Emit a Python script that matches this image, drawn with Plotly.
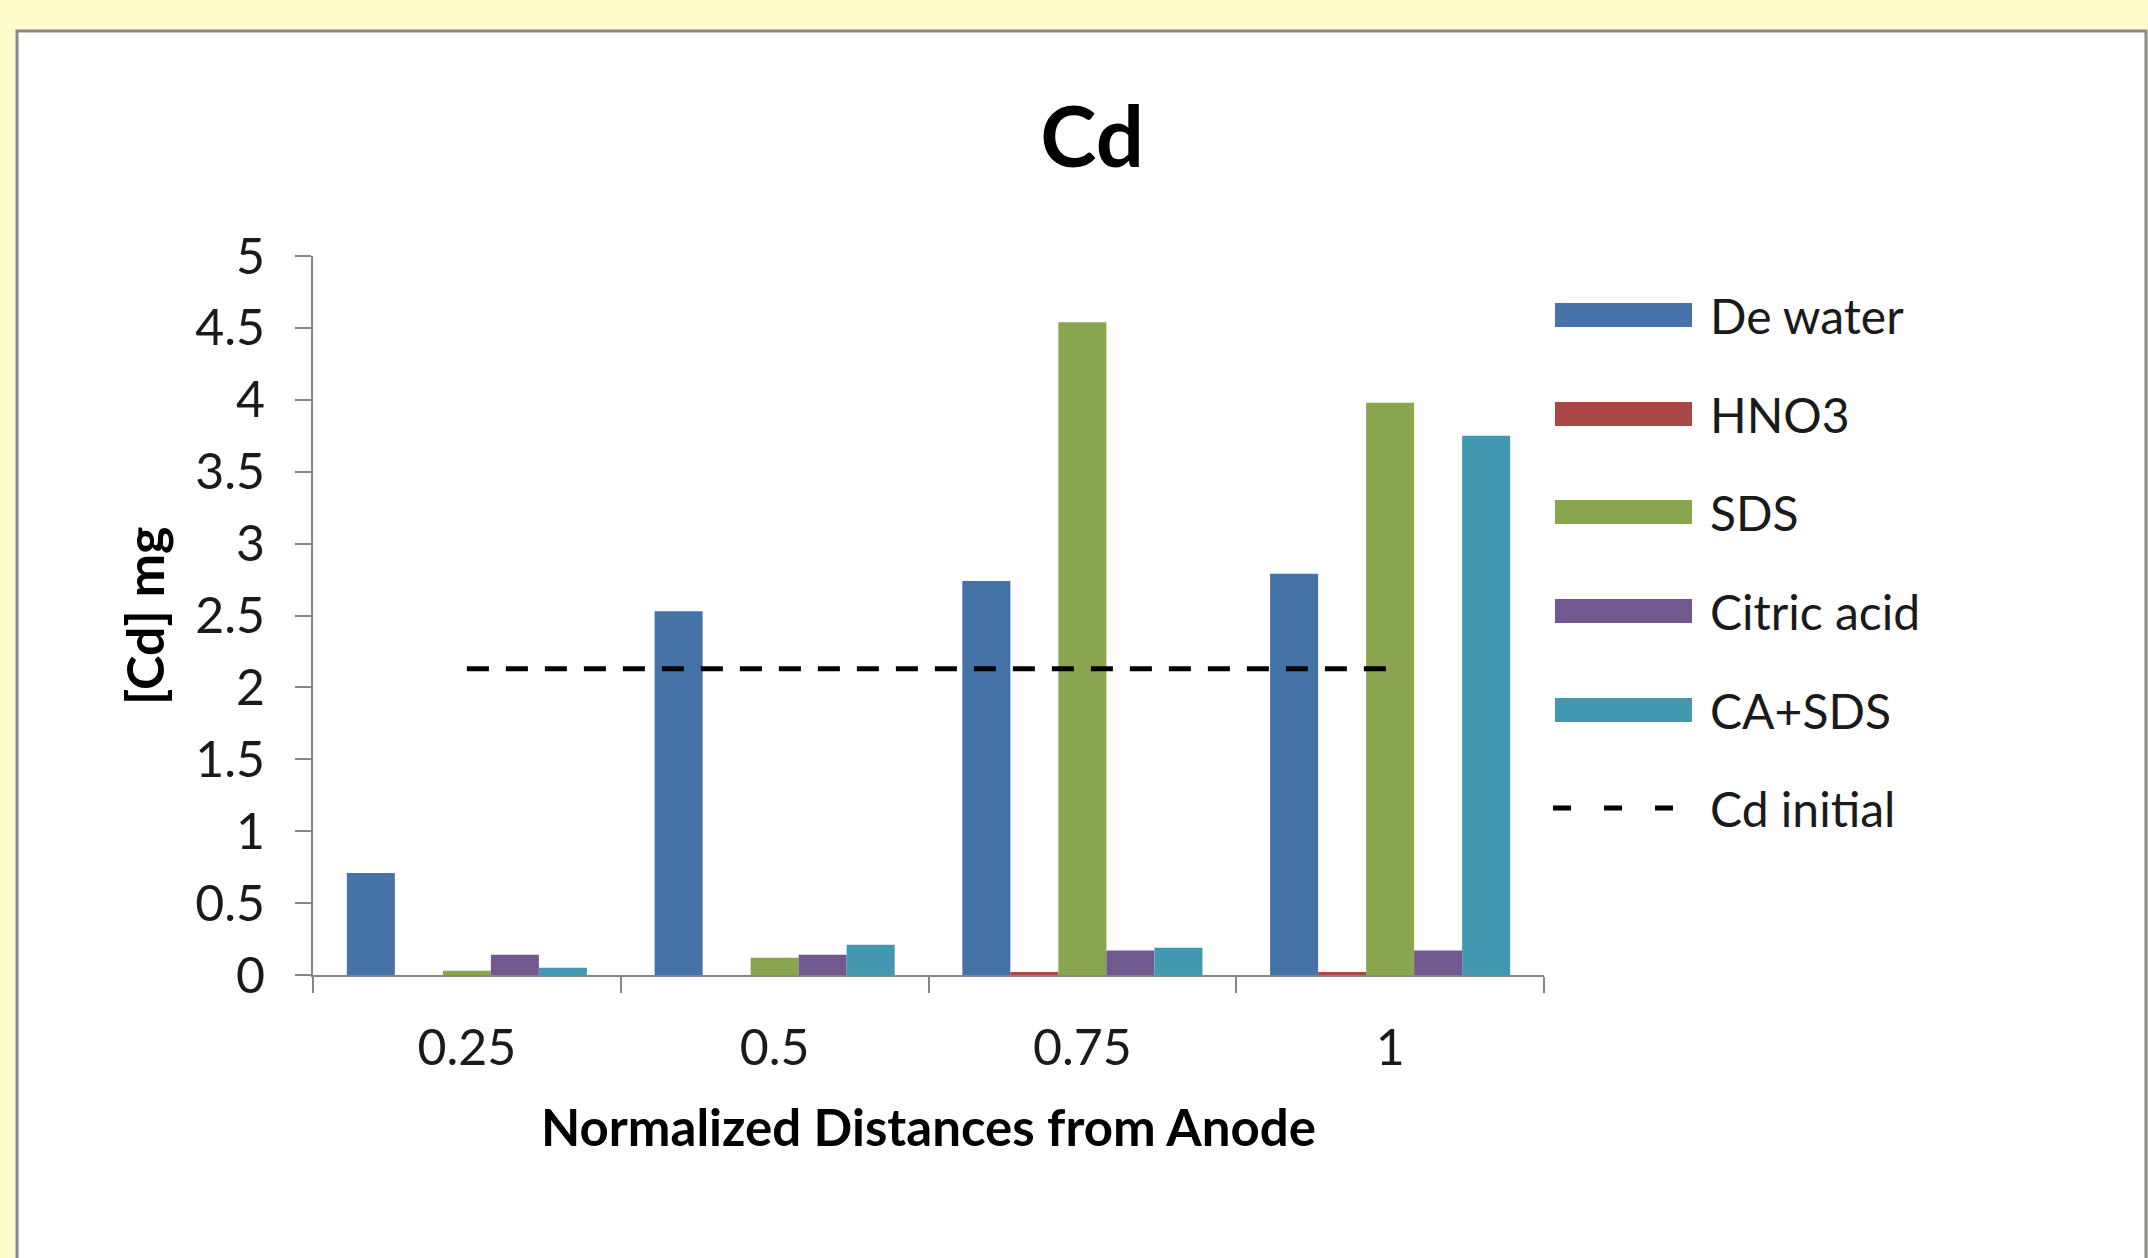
# Cd distribution chart, rebuilt with plotly

import plotly.graph_objects as go

# data
distances = ['0.25', '0.5', '0.75', '1']
de_water = [0.71, 2.53, 2.74, 2.79]
hno3 = [0.0, 0.0, 0.02, 0.02]
sds = [0.03, 0.12, 4.54, 3.98]
citric_acid = [0.14, 0.14, 0.17, 0.17]
ca_sds = [0.05, 0.21, 0.19, 3.75]
cd_initial = 2.13

series_names = ['De water', 'HNO3', 'SDS', 'Citric acid', 'CA+SDS']
series_values = [de_water, hno3, sds, citric_acid, ca_sds]
series_colors = ['#4572A7', '#AA4643', '#89A54E', '#71588F', '#4198AF']

# page geometry (pixels)
W, H = 2148, 1258
L, R, T, B = 313, 604, 256, 283
PW, PH = W - L - R, H - T - B
FONT = 'Lato, Calibri, sans-serif'


def px(x):
    # pixel x -> paper x
    return (x - L) / PW


def py(y):
    # pixel y -> paper y
    return (H - B - y) / PH


fig = go.Figure()
for name, vals, col in zip(series_names, series_values, series_colors):
    fig.add_trace(go.Bar(x=distances, y=vals, name=name, marker_color=col,
                         marker_line_width=0, showlegend=False))

fig.add_trace(go.Scatter(x=distances, y=[cd_initial] * len(distances),
                         mode='lines', name='Cd initial', showlegend=False,
                         line=dict(color='black', width=5, dash='22px,17px')))

shapes = []
annotations = []

# white chart panel with grey frame on the yellow page
shapes.append(dict(type='rect', xref='paper', yref='paper',
                   x0=px(17), x1=px(2146), y0=py(1300), y1=py(31),
                   fillcolor='white', line=dict(color='#8a8a8a', width=3),
                   layer='below'))

# legend drawn by hand (wide swatches like excel)
row_y = [315, 414, 512, 611, 710, 808]
for i, (name, col) in enumerate(zip(series_names, series_colors)):
    shapes.append(dict(type='rect', xref='paper', yref='paper',
                       x0=px(1555), x1=px(1692),
                       y0=py(row_y[i] + 12), y1=py(row_y[i] - 12),
                       fillcolor=col, line_width=0))
    annotations.append(dict(text=name, xref='paper', yref='paper',
                            x=px(1708), y=py(row_y[i]), xanchor='left',
                            yanchor='middle', showarrow=False,
                            font=dict(size=48, color='#1a1a1a', family=FONT)))
shapes.append(dict(type='line', xref='paper', yref='paper',
                   x0=px(1553), x1=px(1675), y0=py(row_y[5]), y1=py(row_y[5]),
                   line=dict(color='black', width=5, dash='18px,33px')))
annotations.append(dict(text='Cd initial', xref='paper', yref='paper',
                        x=px(1708), y=py(row_y[5]), xanchor='left',
                        yanchor='middle', showarrow=False,
                        font=dict(size=48, color='#1a1a1a', family=FONT)))

# axis titles
annotations.append(dict(text='<b>Normalized Distances from Anode</b>',
                        xref='paper', yref='paper', x=px(928), y=py(1126),
                        xanchor='center', yanchor='middle', showarrow=False,
                        font=dict(size=51, color='black', family=FONT)))
annotations.append(dict(text='<b>[Cd] mg</b>', textangle=-90,
                        xref='paper', yref='paper', x=px(144), y=py(616),
                        xanchor='center', yanchor='middle', showarrow=False,
                        font=dict(size=52, color='black', family=FONT)))

fig.update_layout(
    width=W, height=H,
    margin=dict(l=L, r=R, t=T, b=B, autoexpand=False),
    paper_bgcolor='#FFFDCC', plot_bgcolor='white',
    barmode='group', bargap=0.22, bargroupgap=0,
    title=dict(text='<b>Cd</b>', x=1092 / W, xanchor='center',
               y=1 - 137 / H, yanchor='middle',
               font=dict(size=85, color='black', family=FONT)),
    font=dict(family=FONT, color='#1a1a1a'),
    shapes=shapes, annotations=annotations,
)
fig.update_xaxes(type='category', tickson='boundaries', ticks='outside',
                 ticklen=16, tickwidth=2, tickcolor='#868686',
                 showline=True, linecolor='#868686', linewidth=2,
                 showgrid=False, tickfont=dict(size=50), ticklabelstandoff=28)
fig.update_yaxes(range=[0, 5], dtick=0.5, ticks='outside', ticklen=16,
                 tickwidth=2, tickcolor='#868686', showline=True,
                 linecolor='#868686', linewidth=2, showgrid=False,
                 zeroline=False, tickfont=dict(size=50), ticklabelstandoff=20)

# drop the default page margin so the figure sits at the window corner
fig.write_html("out.html", config={'displayModeBar': False},
               post_script="document.body.style.margin='0px';")
